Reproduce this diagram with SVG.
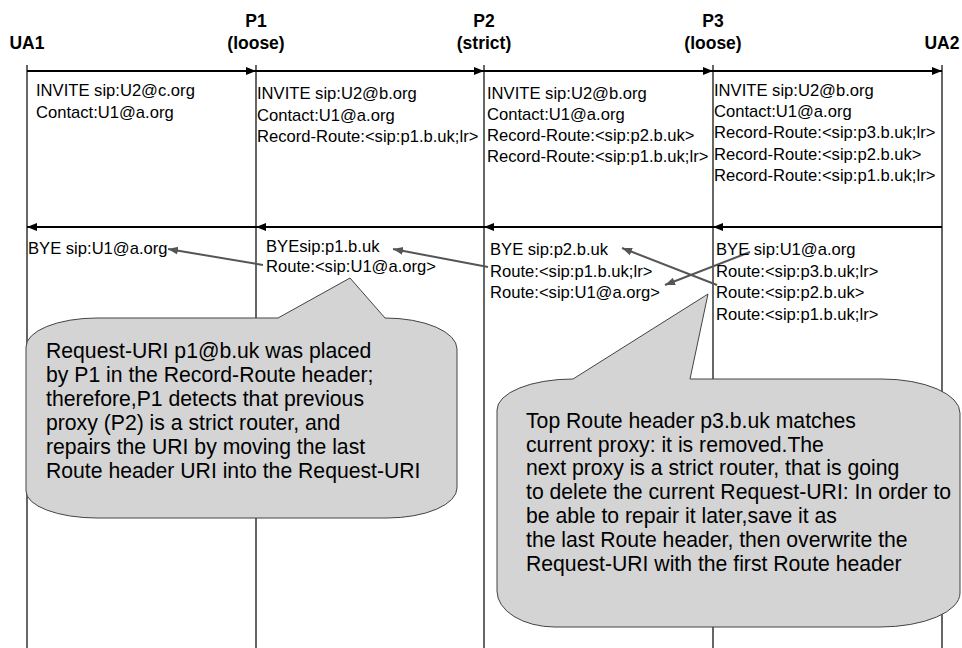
<svg xmlns="http://www.w3.org/2000/svg" width="962" height="648" viewBox="0 0 962 648">
  <style>
    .hdr { font-family: "Liberation Sans", Arial, sans-serif; font-size: 17.5px; font-weight: bold; fill: #000; text-anchor: middle; }
    .msg { font-family: "Liberation Sans", Arial, sans-serif; font-size: 16.6px; fill: #000; }
    .note { font-family: "Liberation Sans", Arial, sans-serif; font-size: 21.2px; fill: #000; }
    .life { stroke: #000; stroke-width: 1.2; fill: none; }
    .flow { stroke: #000; stroke-width: 2; fill: none; }
    .hint { stroke: #555; stroke-width: 2; fill: none; }
    .bubble { fill: #d4d4d4; stroke: #444; stroke-width: 1; }
  </style>
  <defs>
    <marker id="headFlow" markerUnits="userSpaceOnUse" markerWidth="10" markerHeight="10" refX="10" refY="5" orient="auto">
      <path d="M0,1 L10,5 L0,9 Z" fill="#000"/>
    </marker>
    <marker id="headHint" markerUnits="userSpaceOnUse" markerWidth="11" markerHeight="10" refX="10" refY="5" orient="auto">
      <path d="M0,1 L10,5 L0,9 Z" fill="#555"/>
    </marker>
  </defs>

  <rect width="962" height="648" fill="#fff"/>

  <!-- participants: header label and lifeline -->
  <g id="ua1">
    <text class="hdr" x="27" y="49">UA1</text>
    <line class="life" x1="27" y1="65" x2="27" y2="648"/>
  </g>
  <g id="p1">
    <text class="hdr" x="256" y="27">P1</text>
    <text class="hdr" x="256" y="49">(loose)</text>
    <line class="life" x1="256" y1="65" x2="256" y2="648"/>
  </g>
  <g id="p2">
    <text class="hdr" x="484" y="27">P2</text>
    <text class="hdr" x="484" y="49">(strict)</text>
    <line class="life" x1="484" y1="65" x2="484" y2="648"/>
  </g>
  <g id="p3">
    <text class="hdr" x="713" y="27">P3</text>
    <text class="hdr" x="713" y="49">(loose)</text>
    <line class="life" x1="713" y1="65" x2="713" y2="648"/>
  </g>
  <g id="ua2">
    <text class="hdr" x="942" y="49">UA2</text>
    <line class="life" x1="942" y1="65" x2="942" y2="648" stroke="#444" stroke-width="1.6"/>
  </g>

  <!-- message hops -->
  <g id="connectors">
    <!-- INVITE, left to right -->
    <line class="flow" x1="27" y1="71" x2="256" y2="71" marker-end="url(#headFlow)"/>
    <line class="flow" x1="256" y1="71" x2="484" y2="71" marker-end="url(#headFlow)"/>
    <line class="flow" x1="484" y1="71" x2="713" y2="71" marker-end="url(#headFlow)"/>
    <line class="flow" x1="713" y1="71" x2="942" y2="71" marker-end="url(#headFlow)"/>
    <!-- BYE, right to left -->
    <line class="flow" x1="942" y1="227" x2="713" y2="227" marker-end="url(#headFlow)"/>
    <line class="flow" x1="713" y1="227" x2="484" y2="227" marker-end="url(#headFlow)"/>
    <line class="flow" x1="484" y1="227" x2="256" y2="227" marker-end="url(#headFlow)"/>
    <line class="flow" x1="256" y1="227" x2="27" y2="227" marker-end="url(#headFlow)"/>
    <!-- header movements between hops -->
    <line class="hint" x1="263" y1="265" x2="168" y2="249" marker-end="url(#headHint)"/>
    <line class="hint" x1="488" y1="267" x2="393" y2="249" marker-end="url(#headHint)"/>
    <line class="hint" x1="717" y1="285" x2="622" y2="248" marker-end="url(#headHint)"/>
    <line class="hint" x1="750" y1="252" x2="665" y2="285" marker-end="url(#headHint)"/>
  </g>

  <!-- INVITE contents per hop -->
  <g id="invite-ua1-p1">
    <text class="msg" x="36" y="96">INVITE sip:U2@c.org</text>
    <text class="msg" x="36" y="118">Contact:U1@a.org</text>
  </g>
  <g id="invite-p1-p2">
    <text class="msg" x="257" y="99">INVITE sip:U2@b.org</text>
    <text class="msg" x="257" y="121">Contact:U1@a.org</text>
    <text class="msg" x="257" y="142">Record-Route:&lt;sip:p1.b.uk;lr&gt;</text>
  </g>
  <g id="invite-p2-p3">
    <text class="msg" x="487" y="99">INVITE sip:U2@b.org</text>
    <text class="msg" x="487" y="120">Contact:U1@a.org</text>
    <text class="msg" x="487" y="141">Record-Route:&lt;sip:p2.b.uk&gt;</text>
    <text class="msg" x="487" y="162">Record-Route:&lt;sip:p1.b.uk;lr&gt;</text>
  </g>
  <g id="invite-p3-ua2">
    <text class="msg" x="714" y="96">INVITE sip:U2@b.org</text>
    <text class="msg" x="714" y="117">Contact:U1@a.org</text>
    <text class="msg" x="714" y="138">Record-Route:&lt;sip:p3.b.uk;lr&gt;</text>
    <text class="msg" x="714" y="160">Record-Route:&lt;sip:p2.b.uk&gt;</text>
    <text class="msg" x="714" y="181">Record-Route:&lt;sip:p1.b.uk;lr&gt;</text>
  </g>

  <!-- BYE contents per hop -->
  <g id="bye-p1-ua1">
    <text class="msg" x="28" y="254">BYE sip:U1@a.org</text>
  </g>
  <g id="bye-p2-p1">
    <text class="msg" x="266" y="252">BYEsip:p1.b.uk</text>
    <text class="msg" x="266" y="272">Route:&lt;sip:U1@a.org&gt;</text>
  </g>
  <g id="bye-p3-p2">
    <text class="msg" x="490" y="255">BYE sip:p2.b.uk</text>
    <text class="msg" x="490" y="277">Route:&lt;sip:p1.b.uk;lr&gt;</text>
    <text class="msg" x="490" y="298">Route:&lt;sip:U1@a.org&gt;</text>
  </g>
  <g id="bye-ua2-p3">
    <text class="msg" x="716" y="255">BYE sip:U1@a.org</text>
    <text class="msg" x="716" y="277">Route:&lt;sip:p3.b.uk;lr&gt;</text>
    <text class="msg" x="716" y="298">Route:&lt;sip:p2.b.uk&gt;</text>
    <text class="msg" x="716" y="320">Route:&lt;sip:p1.b.uk;lr&gt;</text>
  </g>

  <!-- explanatory balloons -->
  <g id="note-p1">
    <path class="bubble" d="M97,318 L278,318 L350,278 L385,318 A72,31 0 0 1 457,349 L457,488 A70,30 0 0 1 387,518 L97,518 A71,27 0 0 1 26,491 L26,347 A71,29 0 0 1 97,318 Z"/>
    <text class="note" x="46" y="358">Request-URI p1@b.uk was placed</text>
    <text class="note" x="46" y="382">by P1 in the Record-Route header;</text>
    <text class="note" x="46" y="406">therefore,P1 detects that previous</text>
    <text class="note" x="46" y="430">proxy (P2) is a strict router, and</text>
    <text class="note" x="46" y="454">repairs the URI by moving the last</text>
    <text class="note" x="46" y="478">Route header URI into the Request-URI</text>
  </g>
  <g id="note-p3">
    <path class="bubble" d="M573,379 L708,294 L690,379 L882,379 A78,34 0 0 1 960,413 L960,593 A80,34 0 0 1 880,627 L555,627 A58,36 0 0 1 497,591 L497,410 A76,31 0 0 1 573,379 Z"/>
    <text class="note" x="526" y="428">Top Route header p3.b.uk matches</text>
    <text class="note" x="526" y="452">current proxy: it is removed.The</text>
    <text class="note" x="526" y="475">next proxy is a strict router, that is going</text>
    <text class="note" x="526" y="499">to delete the current Request-URI: In order to</text>
    <text class="note" x="526" y="523">be able to repair it later,save it as</text>
    <text class="note" x="526" y="547">the last Route header, then overwrite the</text>
    <text class="note" x="526" y="571">Request-URI with the first Route header</text>
  </g>
</svg>
